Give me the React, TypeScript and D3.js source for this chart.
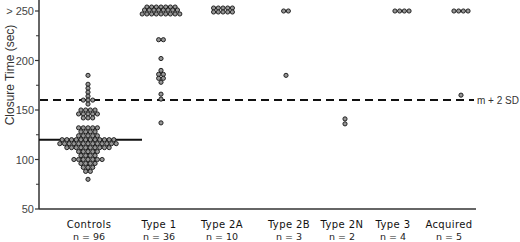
import React from "react";
import * as d3 from "d3";

const categories = ["Controls", "Type 1", "Type 2A", "Type 2B", "Type 2N", "Type 3", "Acquired"];
const groupSizes = [96, 36, 10, 3, 2, 4, 5];

// rows: [closure time (sec), number of dots]
const controlsRows: [number, number][] = [
  [185, 1], [176, 1], [172, 1], [168, 1], [164, 1], [160, 3], [156, 1],
  [150, 4], [146, 5], [142, 3],
  [132, 5], [128, 4], [124, 5],
  [120, 12], [116, 13], [112, 10],
  [108, 5], [104, 4], [100, 7], [96, 4], [92, 3], [88, 2], [80, 1],
];
const type1Rows: [number, number][] = [
  [254, 7], [251, 8], [247, 9],
  [221, 2], [202, 1], [190, 1], [186, 2], [182, 2], [178, 1], [166, 1], [161, 1], [137, 1],
];
const type2ARows: [number, number][] = [[253, 5], [249, 5]];
const type2BRows: [number, number][] = [[250, 2], [185, 1]];
const type2NRows: [number, number][] = [[141, 1], [136, 1]];
const type3Rows: [number, number][] = [[250, 4]];
const acquiredRows: [number, number][] = [[250, 4], [165, 1]];
const allRows = [controlsRows, type1Rows, type2ARows, type2BRows, type2NRows, type3Rows, acquiredRows];

const yTicks = [50, 100, 150, 200, 250];
const yMinorTicks = [75, 125, 175, 225];
const meanValue = 120;
const cutoffValue = 160;

export default function App() {
  const W = 520, H = 242;
  const y = d3.scaleLinear().domain([50, 250]).range([209, 11]);
  const xDots = d3.scaleOrdinal<string, number>().domain(categories).range([88, 161, 223, 286, 345, 402, 461]);
  const xLabels = d3.scaleOrdinal<string, number>().domain(categories).range([89, 159, 222, 289, 342, 393, 449]);
  const axisX = 39;
  const axisRight = 476;
  const spacing = 4.7;
  const r = 2.1;

  const dots: { cx: number; cy: number; key: string }[] = [];
  categories.forEach((c, gi) => {
    allRows[gi].forEach(([v, n], ri) => {
      for (let i = 0; i < n; i++) {
        dots.push({ cx: xDots(c) + (i - (n - 1) / 2) * spacing, cy: y(v), key: `${gi}-${ri}-${i}` });
      }
    });
  });

  return (
    <svg width={W} height={H} style={{ position: "absolute", left: 0, top: 0, background: "#fff" }}>
      {/* axes */}
      <line x1={axisX} x2={axisX} y1={y(261)} y2={y(50)} stroke="#333" strokeWidth={1.5} />
      <line x1={axisX} x2={axisRight} y1={y(50)} y2={y(50)} stroke="#333" strokeWidth={1.5} />
      {yTicks.map((t) => (
        <g key={t}>
          <line x1={axisX - 4} x2={axisX} y1={y(t)} y2={y(t)} stroke="#333" strokeWidth={1.2} />
          <text x={axisX - 5} y={y(t) + 4} textAnchor="end" fontFamily="Liberation Sans, Arial, sans-serif" fontSize={11} fill="#444">
            {t === 250 ? "> 250" : t}
          </text>
        </g>
      ))}
      {yMinorTicks.map((t) => (
        <line key={t} x1={axisX - 3} x2={axisX} y1={y(t)} y2={y(t)} stroke="#333" strokeWidth={1} />
      ))}
      <text transform={`translate(14,${75}) rotate(-90)`} textAnchor="middle" fontFamily="Liberation Sans, Arial, sans-serif" fontSize={12} fill="#333">
        Closure Time (sec)
      </text>

      {/* reference lines */}
      <line x1={axisX} x2={142} y1={y(meanValue)} y2={y(meanValue)} stroke="#111" strokeWidth={2} />
      <line x1={axisX + 1} x2={474} y1={y(cutoffValue)} y2={y(cutoffValue)} stroke="#111" strokeWidth={2} strokeDasharray="8,5" />
      <text x={477} y={y(cutoffValue) + 3.5} fontFamily="Liberation Sans, Arial, sans-serif" fontSize={10} fill="#333">m + 2 SD</text>

      {/* dots */}
      {dots.map((d) => (
        <circle key={d.key} cx={d.cx} cy={d.cy} r={r} fill="#969696" stroke="#111" strokeWidth={0.9} />
      ))}

      {/* category labels */}
      {categories.map((c, i) => (
        <g key={c}>
          <text x={xLabels(c)} y={228} textAnchor="middle" fontFamily="DejaVu Sans, sans-serif" fontSize={10} fill="#111" letterSpacing={0.4}>{c}</text>
          <text x={xLabels(c)} y={240} textAnchor="middle" fontFamily="DejaVu Sans, sans-serif" fontSize={9.5} fill="#222">{`n = ${groupSizes[i]}`}</text>
        </g>
      ))}
    </svg>
  );
}
